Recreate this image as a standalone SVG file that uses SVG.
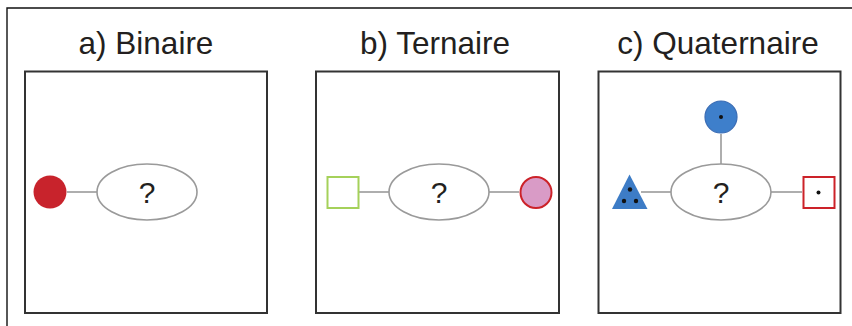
<svg xmlns="http://www.w3.org/2000/svg" width="852" height="326" viewBox="0 0 852 326">
  <style>
    .title { font-family: "Liberation Sans", Arial, sans-serif; font-size: 31.5px; fill: #231f20; text-anchor: middle; }
    .q { font-family: "Liberation Sans", Arial, sans-serif; font-size: 30px; fill: #231f20; text-anchor: middle; }
    .panel { fill: #ffffff; stroke: #333333; stroke-width: 2; }
    .ell { fill: #ffffff; stroke: #9a9a9a; stroke-width: 1.6; }
    .link { stroke: #9a9a9a; stroke-width: 1.6; fill: none; }
    .frame { stroke: #111111; stroke-width: 1.4; fill: none; }
    .dot { fill: #111111; }
  </style>
  <rect x="0" y="0" width="852" height="326" fill="#ffffff"/>
  <path class="frame" d="M7,326 V8 H852"/>

  <g id="panel-a">
    <text class="title" x="146" y="54">a) Binaire</text>
    <rect class="panel" x="25" y="71.5" width="242" height="241.5"/>
  </g>
  <g id="panel-b">
    <text class="title" x="435" y="54">b) Ternaire</text>
    <rect class="panel" x="316" y="71.5" width="243" height="241.5"/>
  </g>
  <g id="panel-c">
    <text class="title" x="718" y="54">c) Quaternaire</text>
    <rect class="panel" x="598.5" y="71.5" width="242" height="241.5"/>
  </g>

  <g id="connectors">
    <line class="link" x1="67" y1="192" x2="97" y2="192"/>
    <line class="link" x1="359" y1="192" x2="389" y2="192"/>
    <line class="link" x1="489" y1="192" x2="519" y2="192"/>
    <line class="link" x1="641" y1="192" x2="671" y2="192"/>
    <line class="link" x1="771" y1="192" x2="802" y2="192"/>
    <line class="link" x1="721" y1="134" x2="721" y2="164"/>
  </g>

  <g id="a-center">
    <ellipse class="ell" cx="147" cy="192" rx="50" ry="28"/>
    <text class="q" x="147" y="203">?</text>
  </g>
  <g id="a-red-circle">
    <circle cx="50" cy="192" r="16.5" fill="#c8232c"/>
  </g>

  <g id="b-center">
    <ellipse class="ell" cx="439" cy="192" rx="50" ry="28"/>
    <text class="q" x="439" y="203">?</text>
  </g>
  <g id="b-green-square">
    <rect x="327.5" y="177" width="31" height="31" fill="#ffffff" stroke="#a5d15a" stroke-width="2"/>
  </g>
  <g id="b-pink-circle">
    <circle cx="536" cy="192.5" r="15.5" fill="#d99bc6" stroke="#cc2229" stroke-width="2"/>
  </g>

  <g id="c-center">
    <ellipse class="ell" cx="721" cy="192" rx="50" ry="28"/>
    <text class="q" x="721" y="203">?</text>
  </g>
  <g id="c-blue-circle">
    <circle cx="721" cy="117" r="16" fill="#3e7fcb" stroke="#3a6cb4" stroke-width="1.2"/>
    <circle class="dot" cx="721" cy="117" r="2"/>
  </g>
  <g id="c-triangle">
    <polygon points="629.5,174.5 612,209 647.5,209" fill="#3d7cc6"/>
    <circle class="dot" cx="630" cy="189.5" r="2.2"/>
    <circle class="dot" cx="624" cy="201" r="2.2"/>
    <circle class="dot" cx="636" cy="201" r="2.2"/>
  </g>
  <g id="c-red-square">
    <rect x="803.5" y="177" width="31" height="31" fill="#ffffff" stroke="#cc2229" stroke-width="2"/>
    <circle class="dot" cx="818.5" cy="192.5" r="2"/>
  </g>
</svg>
